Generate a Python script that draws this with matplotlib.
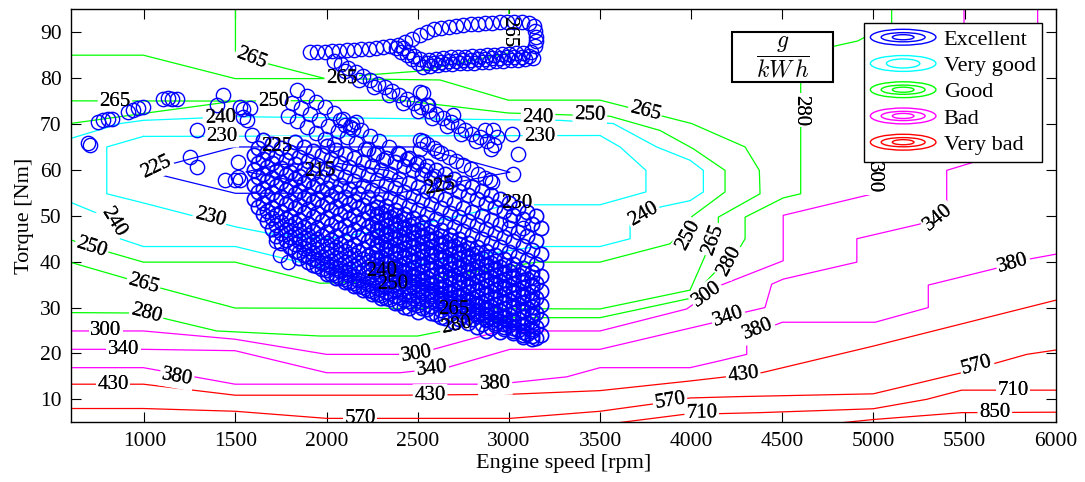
import matplotlib.pyplot as plt
from matplotlib.legend_handler import HandlerBase
from matplotlib.patches import Ellipse, Rectangle
from matplotlib.lines import Line2D
import numpy as np

plt.rcParams['font.family'] = ['Liberation Serif', 'DejaVu Serif']
plt.rcParams['mathtext.fontset'] = 'cm'

# iso-BSFC lines [g/kWh], vertices as (rpm, Nm)
bsfc_215 = [[(1560, 59.6), (1750, 61.2), (2050, 61.5), (2350, 59.8), (2420, 58.2),
             (2150, 57.3), (1800, 57.8), (1560, 59.6)]]
bsfc_225 = [[(1500, 65.0), (1158, 61.4), (1048, 59.3), (1500, 54.9), (2400, 55.0),
             (3006, 59.5), (2500, 65.0), (1500, 65.0)]]
bsfc_230 = [[(995, 67.3), (3500, 67.5), (3610, 65.0), (3752, 59.9), (3752, 55.2),
             (3500, 52.4), (3000, 52.4), (2500, 48.0), (2000, 45.0), (1690, 46.1),
             (1500, 47.6), (995, 52.8), (794, 54.8), (794, 65.0), (995, 67.3)]]
bsfc_240 = [[(592, 66.8), (867, 70.1), (995, 70.8), (1500, 71.6), (3279, 70.8),
             (3573, 70.1), (3811, 65.0), (3994, 62.1), (4067, 59.9), (4067, 55.2),
             (3994, 53.3), (3829, 51.9), (3665, 48.2), (3665, 45.0), (3500, 43.3),
             (3153, 43.3), (2500, 39.5), (1964, 38.8), (1500, 43.3), (995, 43.3),
             (867, 45.0), (867, 47.2), (794, 49.7), (592, 53.0)]]
bsfc_250 = [[(592, 70.1), (995, 72.3), (1498, 75.0), (2403, 75.2), (2997, 72.4),
             (3555, 71.7), (3829, 68.6), (4012, 64.6), (4186, 59.9), (4186, 55.2),
             (4003, 49.8), (4003, 48.2), (3884, 43.9), (3500, 39.9), (3153, 39.9),
             (2500, 35.8), (1964, 35.3), (1498, 39.9), (995, 39.9), (812, 42.0),
             (592, 44.8)]]
bsfc_265 = [[(592, 85.0), (995, 85.0), (1498, 79.9), (2000, 79.9), (2622, 79.6),
             (2997, 75.2), (3500, 75.2), (3756, 72.6), (4003, 70.1), (4296, 65.0),
             (4374, 59.9), (4378, 54.8), (4149, 49.7), (4149, 47.5), (4090, 42.5),
             (3994, 33.8), (3500, 29.7), (1498, 29.9), (1000, 35.2), (592, 39.9)],
            [(1500, 96.0), (1500, 85.8), (1671, 83.2), (1982, 80.0), (2500, 81.5),
             (3000, 85.5), (3000, 96.0)],
            [(592, 75.05), (1498, 75.0)]]
bsfc_280 = [[(5100, 96.0), (5100, 92.0), (4914, 88.1), (4778, 86.9), (4601, 80.0),
             (4601, 54.8), (4505, 53.9), (4296, 49.7), (4296, 45.0), (4268, 43.1),
             (4121, 37.3), (3994, 32.0), (3500, 27.8), (3000, 27.8), (2500, 23.8),
             (1964, 23.8), (1397, 24.9), (1123, 27.5), (1000, 28.8), (592, 28.9)]]
bsfc_300 = [[(5497, 96.0), (5497, 92.0), (4999, 61.7), (4999, 54.8), (4505, 50.1),
             (4505, 40.2), (4158, 34.8), (3976, 29.7), (3500, 24.9), (2952, 24.9),
             (2586, 20.9), (2403, 19.8), (2000, 19.8), (1498, 23.1), (995, 24.9),
             (592, 24.9)]]
bsfc_340 = [[(5901, 96.0), (5901, 92.0), (5576, 62.0), (5402, 59.9), (5402, 53.0),
             (5255, 48.2), (4909, 45.0), (4909, 39.9), (4505, 36.2), (4442, 35.1),
             (4405, 30.0), (4286, 28.9), (4121, 26.7), (3500, 20.9), (3006, 20.9),
             (2659, 16.9), (2403, 15.8), (2000, 15.8), (1498, 20.6), (995, 20.9),
             (592, 20.9)]]
bsfc_380 = [[(592, 16.9), (995, 16.9), (1498, 13.3), (2823, 13.3), (3006, 13.6),
             (3317, 14.9), (3500, 16.9), (3994, 16.9), (4158, 18.4), (4305, 19.8),
             (4305, 23.8), (4500, 26.8), (5009, 26.8), (5301, 30.0), (5301, 34.9),
             (5658, 38.4), (5859, 40.6), (6010, 41.7)]]
bsfc_430 = [[(592, 13.3), (995, 13.3), (1498, 10.9), (2403, 10.9), (3006, 11.1),
             (3500, 11.9), (3994, 14.0), (4387, 15.8), (4999, 21.6), (6010, 31.7)]]
bsfc_570 = [[(592, 8.0), (995, 8.0), (1498, 7.4), (2000, 5.85), (3006, 5.85),
             (3500, 7.4), (3793, 9.0), (3994, 10.3), (4268, 10.6), (4999, 11.2),
             (5484, 15.8), (5841, 19.8), (6010, 20.8)]]
bsfc_710 = [[(3540, 4.6), (3957, 6.7), (4378, 7.1), (4999, 7.95), (5292, 10.0),
             (5484, 12.0), (6010, 12.0)]]
bsfc_850 = [[(4700, 4.4), (4999, 5.6), (5484, 7.1), (6010, 7.2)]]

# (level, rpm, Nm) of the inline labels
label_spots = [(215, 1964, 59.7), (225, 1068, 60.6), (225, 1726, 65.0), (225, 2622, 56.3),
               (230, 1425, 67.3), (230, 3171, 67.2), (230, 3043, 52.6), (230, 1360, 49.6),
               (240, 1416, 71.4), (240, 3160, 71.3), (240, 3738, 50.3), (240, 831, 48.6),
               (240, 2302, 38.0), (250, 1708, 75.0), (250, 3445, 72.0), (250, 3985, 45.8),
               (250, 711, 43.1), (250, 2365, 35.0), (265, 839, 75.0), (265, 1589, 84.4),
               (265, 2083, 79.9), (265, 3000, 90.2), (265, 3747, 72.8), (265, 4121, 44.8),
               (265, 2695, 29.6), (265, 995, 35.1), (280, 4601, 73.0), (280, 4210, 40.2),
               (280, 2714, 26.0), (280, 1013, 28.7), (300, 790, 24.9), (300, 2494, 19.8),
               (300, 4085, 32.9), (300, 4999, 58.4), (340, 885, 20.8), (340, 2577, 16.6),
               (340, 4204, 28.0), (340, 5356, 49.6), (380, 1178, 14.8), (380, 2924, 13.3),
               (380, 4368, 25.3), (380, 5767, 39.6), (430, 828, 13.3), (430, 2568, 10.9),
               (430, 4286, 15.3), (570, 2184, 5.85), (570, 3884, 9.7), (570, 5567, 17.4),
               (710, 4058, 7.0), (710, 5766, 12.0), (850, 5666, 7.1)]
label_rot = {(240, 831): -58, (250, 3985): 62, (265, 4121): 70, (280, 4210): 62}

# operating points (rpm, Nm)
pts_left = [(691, 65.8), (700, 65.4), (748, 70.5), (775, 70.8), (803, 71.0), (821, 71.2),
            (912, 72.6), (940, 73.0), (967, 73.4), (991, 73.6), (1104, 75.4), (1132, 75.6),
            (1150, 75.4), (1178, 75.4), (1287, 68.8), (1397, 74.1), (1433, 76.3), (1251, 62.8),
            (1287, 60.6), (1443, 57.7), (1498, 57.7), (1516, 58.4), (1525, 57.9), (1516, 61.7),
            (1540, 73.2), (1543, 71.6), (1589, 67.5), (1525, 73.7), (1580, 73.4), (1562, 70.8)]
pts_loop = [(1909, 85.6), (1950, 85.7), (1990, 85.8), (2030, 85.9), (2070, 86.0), (2110, 86.1),
            (2150, 86.2), (2190, 86.3), (2230, 86.4), (2270, 86.6), (2310, 86.8), (2350, 87.0),
            (2390, 87.3), (2430, 87.8), (2470, 88.5), (2510, 89.3), (2550, 90.0), (2590, 90.6),
            (2630, 91.0), (2670, 91.2), (2710, 91.4), (2750, 91.5), (2790, 91.7), (2830, 91.8),
            (2870, 92.0), (2910, 92.1), (2950, 92.2), (2990, 92.3), (3030, 92.3), (3070, 92.2),
            (3110, 92.0), (3140, 91.3), (3145, 90.2), (3148, 89.0), (3148, 88.0), (3145, 87.0),
            (2560, 84.0), (2600, 84.2), (2640, 84.4), (2680, 84.5), (2720, 84.6), (2760, 84.7),
            (2800, 84.8), (2840, 84.9), (2880, 85.0), (2920, 85.1), (2960, 85.2), (3000, 85.3),
            (3040, 85.4), (3080, 85.5), (3120, 85.8),
            (2550, 83.2), (2590, 83.4), (2630, 83.6), (2670, 83.7), (2710, 83.8), (2750, 83.9),
            (2790, 84.0), (2830, 84.1), (2870, 84.2), (2910, 84.3), (2950, 84.4), (2990, 84.5),
            (3030, 84.6), (3070, 84.7), (3110, 84.9),
            (2530, 82.4), (2570, 82.6), (2610, 82.8), (2650, 83.0), (2690, 83.1), (2730, 83.2),
            (2770, 83.3), (2810, 83.4), (2850, 83.5), (2890, 83.6), (2930, 83.7), (2970, 83.8),
            (3010, 83.9), (3050, 84.0), (3090, 84.1), (3130, 84.4),
            (2380, 86.6), (2410, 85.8), (2440, 85.0), (2470, 84.2), (2500, 83.4),
            (2420, 86.6), (2450, 85.7), (2480, 84.9), (2510, 84.1)]
pts_streaks = [(2040, 83.8), (2080, 83.0), (2120, 82.1), (2160, 81.3), (2200, 80.5), (2240, 79.6),
               (2280, 78.8), (2320, 78.0), (2360, 77.1), (2400, 76.3), (2440, 75.4), (2480, 74.6),
               (2520, 73.8), (2560, 72.9), (2600, 72.1), (2640, 71.3), (2680, 70.4), (2720, 69.6),
               (2760, 68.8), (2800, 67.9), (2840, 67.1), (2880, 66.3), (2920, 65.4),
               (2100, 81.5), (2180, 79.7), (2260, 78.0), (2340, 76.3), (2420, 74.6), (2500, 72.9),
               (2580, 71.3), (2660, 69.6), (2740, 67.9), (2820, 66.3), (2900, 64.6),
               (1840, 77.4), (1890, 76.2), (1940, 74.9), (1990, 73.7), (2040, 72.4), (2090, 71.2),
               (2140, 69.9), (2190, 68.7), (2240, 67.4), (2290, 66.2), (2340, 64.9), (2390, 63.7),
               (2440, 62.4), (2490, 61.2), (2540, 59.9), (2590, 58.7), (2640, 57.4),
               (1810, 74.6), (1860, 73.4), (1910, 72.1), (1960, 70.9), (2010, 69.6), (2060, 68.4),
               (2110, 67.1), (2160, 65.9), (2210, 64.6), (2260, 63.4), (2310, 62.1),
               (1790, 71.8), (1840, 70.6), (1890, 69.3), (1940, 68.1), (1990, 66.8), (2040, 65.6),
               (2510, 66.5), (2550, 65.6), (2590, 64.7), (2630, 63.7), (2670, 62.8), (2710, 61.9),
               (2750, 61.0), (2790, 60.1), (2830, 59.1), (2870, 58.2), (2910, 57.3)]
pts_loose = [(2074, 70.8), (2101, 69.7), (2129, 69.4), (2147, 69.0), (2160, 70.5), (2512, 77.0),
             (2549, 74.1), (2530, 66.4), (2512, 64.6), (2604, 64.2), (2531, 76.7), (2558, 74.1),
             (2695, 71.9), (2869, 68.6), (2915, 68.6), (2933, 67.2), (3015, 67.9), (3052, 63.5),
             (3025, 59.2), (2897, 57.7), (3006, 49.0), (3077, 47.4), (1720, 44.5), (1744, 41.5),
             (1790, 40.0)]

# dense band: rpm columns, every streak takes every second column from its first rpm
mass_rpm = [1600, 1625, 1650, 1675, 1700, 1725, 1750, 1775, 1800, 1825, 1850, 1875, 1900,
            1925, 1950, 1975, 2000, 2025, 2050, 2075, 2100, 2125, 2150, 2175, 2200, 2225,
            2250, 2275, 2300, 2325, 2350, 2375, 2400, 2425, 2450, 2475, 2500, 2525, 2550,
            2575, 2600, 2625, 2650, 2675, 2700, 2725, 2750, 2775, 2800, 2825, 2850, 2875,
            2900, 2925, 2950, 2975, 3000, 3025, 3050, 3075, 3100, 3125, 3150, 3175]
mass_streaks = [
    (2400, [63.5, 62.6, 61.7, 60.8, 59.9, 59.0, 58.1, 57.2, 56.3, 55.4, 54.5, 53.6, 52.7, 51.8,
            50.9, 50.0]),
    (2225, [64.5, 63.6, 62.7, 61.8, 60.9, 60.0, 59.1, 58.2, 57.3, 56.4, 55.5, 54.6, 53.7, 52.8,
            51.9, 51.0, 50.1, 49.2, 48.3, 47.4]),
    (2000, [65.3, 64.4, 63.5, 62.6, 61.7, 60.8, 59.9, 59.0, 58.1, 57.2, 56.3, 55.4, 54.5, 53.6,
            52.7, 51.8, 50.9, 50.0, 49.1, 48.2, 47.3, 46.4, 45.5, 44.6]),
    (1825, [66.0, 65.1, 64.2, 63.3, 62.4, 61.5, 60.6, 59.7, 58.8, 57.9, 57.0, 56.1, 55.2, 54.3,
            53.4, 52.5, 51.6, 50.7, 49.8, 48.9, 48.0, 47.1, 46.2, 45.3, 44.4, 43.5, 42.6, 41.7]),
    (1650, [66.5, 65.6, 64.7, 63.8, 62.9, 62.0, 61.1, 60.2, 59.3, 58.4, 57.5, 56.6, 55.7, 54.8,
            53.9, 53.0, 52.1, 51.2, 50.3, 49.4, 48.5, 47.6, 46.7, 45.8, 44.9, 44.0, 43.1, 42.2,
            41.3, 40.4, 39.5]),
    (1625, [64.8, 63.9, 63.0, 62.1, 61.2, 60.3, 59.4, 58.5, 57.6, 56.7, 55.8, 54.9, 54.0, 53.1,
            52.2, 51.3, 50.4, 49.5, 48.6, 47.7, 46.8, 45.9, 45.0, 44.1, 43.2, 42.3, 41.4, 40.5,
            39.6, 38.7, 37.8, 36.9]),
    (1600, [63.2, 62.3, 61.4, 60.5, 59.6, 58.7, 57.8, 56.9, 56.0, 55.1, 54.2, 53.3, 52.4, 51.5,
            50.6, 49.7, 48.8, 47.9, 47.0, 46.1, 45.2, 44.3, 43.4, 42.5, 41.6, 40.7, 39.8, 38.9,
            38.0, 37.1, 36.2, 35.3]),
    (1625, [61.6, 60.7, 59.8, 58.9, 58.0, 57.1, 56.2, 55.3, 54.4, 53.5, 52.6, 51.7, 50.8, 49.9,
            49.0, 48.1, 47.2, 46.3, 45.4, 44.5, 43.6, 42.7, 41.8, 40.9, 40.0, 39.1, 38.2, 37.3,
            36.4, 35.5, 34.6, 33.7]),
    (1600, [60.0, 59.1, 58.2, 57.3, 56.4, 55.5, 54.6, 53.7, 52.8, 51.9, 51.0, 50.1, 49.2, 48.3,
            47.4, 46.5, 45.6, 44.7, 43.8, 42.9, 42.0, 41.1, 40.2, 39.3, 38.4, 37.5, 36.6, 35.7,
            34.8, 33.9, 33.0, 32.1]),
    (1625, [58.4, 57.5, 56.6, 55.7, 54.8, 53.9, 53.0, 52.1, 51.2, 50.3, 49.4, 48.5, 47.6, 46.7,
            45.8, 44.9, 44.0, 43.1, 42.2, 41.3, 40.4, 39.5, 38.6, 37.7, 36.8, 35.9, 35.0, 34.1,
            33.2, 32.3, 31.4, 30.5]),
    (1600, [56.8, 55.9, 55.0, 54.1, 53.2, 52.3, 51.4, 50.5, 49.6, 48.7, 47.8, 46.9, 46.0, 45.1,
            44.2, 43.3, 42.4, 41.5, 40.6, 39.7, 38.8, 37.9, 37.0, 36.1, 35.2, 34.3, 33.4, 32.5,
            31.6, 30.7, 29.8, 28.9]),
    (1625, [55.2, 54.3, 53.4, 52.5, 51.6, 50.7, 49.8, 48.9, 48.0, 47.1, 46.2, 45.3, 44.4, 43.5,
            42.6, 41.7, 40.8, 39.9, 39.0, 38.1, 37.2, 36.3, 35.4, 34.5, 33.6, 32.7, 31.8, 30.9,
            30.0, 29.1, 28.2, 27.3]),
    (1600, [53.6, 52.7, 51.8, 50.9, 50.0, 49.1, 48.2, 47.3, 46.4, 45.5, 44.6, 43.7, 42.8, 41.9,
            41.0, 40.1, 39.2, 38.3, 37.4, 36.5, 35.6, 34.7, 33.8, 32.9, 32.0, 31.1, 30.2, 29.3,
            28.4, 27.5, 26.6, 25.7]),
    (1625, [52.0, 51.1, 50.2, 49.3, 48.4, 47.5, 46.6, 45.7, 44.8, 43.9, 43.0, 42.1, 41.2, 40.3,
            39.4, 38.5, 37.6, 36.7, 35.8, 34.9, 34.0, 33.1, 32.2, 31.3, 30.4, 29.5, 28.6, 27.7,
            26.8, 25.9, 25.0, 24.1]),
    (1650, [50.4, 49.5, 48.6, 47.7, 46.8, 45.9, 45.0, 44.1, 43.2, 42.3, 41.4, 40.5, 39.6, 38.7,
            37.8, 36.9, 36.0, 35.1, 34.2, 33.3, 32.4, 31.5, 30.6, 29.7, 28.8, 27.9, 27.0, 26.1,
            25.2, 24.3, 23.4]),
    (1675, [48.8, 47.9, 47.0, 46.1, 45.2, 44.3, 43.4, 42.5, 41.6, 40.7, 39.8, 38.9, 38.0, 37.1,
            36.2, 35.3, 34.4, 33.5, 32.6, 31.7, 30.8, 29.9, 29.0, 28.1, 27.2, 26.3, 25.4, 24.5,
            23.6]),
    (1700, [47.2, 46.3, 45.4, 44.5, 43.6, 42.7, 41.8, 40.9, 40.0, 39.1, 38.2, 37.3, 36.4, 35.5,
            34.6, 33.7, 32.8, 31.9, 31.0, 30.1, 29.2, 28.3, 27.4, 26.5, 25.6, 24.7]),
    (1725, [45.6, 44.7, 43.8, 42.9, 42.0, 41.1, 40.2, 39.3, 38.4, 37.5, 36.6, 35.7, 34.8, 33.9,
            33.0, 32.1, 31.2, 30.3, 29.4, 28.5, 27.6, 26.7, 25.8, 24.9]),
    (1750, [44.0, 43.1, 42.2, 41.3, 40.4, 39.5, 38.6, 37.7, 36.8, 35.9, 35.0, 34.1, 33.2, 32.3,
            31.4, 30.5, 29.6, 28.7, 27.8, 26.9]),
    (1825, [42.4, 41.5, 40.6, 39.7, 38.8, 37.9, 37.0, 36.1, 35.2, 34.3, 33.4, 32.5, 31.6, 30.7,
            29.8, 28.9, 28.0]),
    (1850, [40.8, 39.9, 39.0, 38.1, 37.2, 36.3, 35.4, 34.5, 33.6, 32.7, 31.8, 30.9, 30.0, 29.1]),
    (1925, [39.2, 38.3, 37.4, 36.5, 35.6, 34.7, 33.8, 32.9, 32.0, 31.1, 30.2]),
    (2000, [37.4, 36.5, 35.6, 34.7, 33.8, 32.9, 32.0]),
    # denser lower-right part
    (2275, [51.9, 51.0, 50.1, 49.2, 48.3, 47.4, 46.5, 45.6, 44.7, 43.8, 42.9, 42.0, 41.1, 40.2,
            39.3, 38.4, 37.5, 36.6]),
    (2275, [50.3, 49.4, 48.5, 47.6, 46.7, 45.8, 44.9, 44.0, 43.1, 42.2, 41.3, 40.4, 39.5, 38.6,
            37.7, 36.8, 35.9, 35.0]),
    (2275, [48.7, 47.8, 46.9, 46.0, 45.1, 44.2, 43.3, 42.4, 41.5, 40.6, 39.7, 38.8, 37.9, 37.0,
            36.1, 35.2, 34.3, 33.4]),
    (2275, [47.1, 46.2, 45.3, 44.4, 43.5, 42.6, 41.7, 40.8, 39.9, 39.0, 38.1, 37.2, 36.3, 35.4,
            34.5, 33.6, 32.7, 31.8]),
    (2275, [45.5, 44.6, 43.7, 42.8, 41.9, 41.0, 40.1, 39.2, 38.3, 37.4, 36.5, 35.6, 34.7, 33.8,
            32.9, 32.0, 31.1, 30.2]),
    (2275, [43.9, 43.0, 42.1, 41.2, 40.3, 39.4, 38.5, 37.6, 36.7, 35.8, 34.9, 34.0, 33.1, 32.2,
            31.3, 30.4, 29.5, 28.6]),
    (2275, [42.3, 41.4, 40.5, 39.6, 38.7, 37.8, 36.9, 36.0, 35.1, 34.2, 33.3, 32.4, 31.5, 30.6,
            29.7, 28.8, 27.9, 27.0]),
    (2275, [40.7, 39.8, 38.9, 38.0, 37.1, 36.2, 35.3, 34.4, 33.5, 32.6, 31.7, 30.8, 29.9, 29.0,
            28.1, 27.2, 26.3, 25.4]),
    (2275, [39.1, 38.2, 37.3, 36.4, 35.5, 34.6, 33.7, 32.8, 31.9, 31.0, 30.1, 29.2, 28.3, 27.4,
            26.5, 25.6, 24.7, 23.8]),
    (2275, [38.4, 37.5, 36.6, 35.7, 34.8, 33.9, 33.0, 32.1, 31.2, 30.3, 29.4, 28.5, 27.6, 26.7,
            25.8, 24.9, 24.0, 23.1]),
]

level_lines = {215: bsfc_215, 225: bsfc_225, 230: bsfc_230, 240: bsfc_240, 250: bsfc_250,
               265: bsfc_265, 280: bsfc_280, 300: bsfc_300, 340: bsfc_340, 380: bsfc_380,
               430: bsfc_430, 570: bsfc_570, 710: bsfc_710, 850: bsfc_850}
classes = ['Excellent', 'Very good', 'Good', 'Bad', 'Very bad']
class_colors = ['#0000ff', '#00ffff', '#00ff00', '#ff00ff', '#ff0000']
class_levels = [[215, 225], [230, 240], [250, 265, 280], [300, 340, 380], [430, 570, 710, 850]]
level_color = {lv: c for c, lvs in zip(class_colors, class_levels) for lv in lvs}

fig = plt.figure(figsize=(10.85, 4.82), dpi=100)
ax = fig.add_axes([0.0658, 0.1239, 0.9072, 0.8568])
ax.set_xlim(600, 6000)
ax.set_ylim(5, 95)

for lv, lines in level_lines.items():
    for line in lines:
        xs, ys = zip(*line)
        ax.plot(xs, ys, color=level_color[lv], lw=0.9, zorder=2)

op_rpm, op_nm = [], []
for p in pts_left + pts_loop + pts_streaks + pts_loose:
    op_rpm.append(p[0])
    op_nm.append(p[1])
ax.plot(op_rpm, op_nm, 'o', ls='none', ms=10.3, mfc='none', mec='#0000ff', mew=1.0, zorder=3)

mass_x, mass_y = [], []
for start, torques in mass_streaks:
    i0 = mass_rpm.index(start)
    mass_x += mass_rpm[i0:i0 + 2 * len(torques):2]
    mass_y += torques
ax.plot(mass_x, mass_y, 'o', ls='none', ms=10.3, mfc='none', mec='#0000ff', mew=1.2, zorder=3)


def line_angle(lv, x, y):
    px, py = ax.transData.transform((x, y))
    best, ang = 1e9, 0.0
    for line in level_lines[lv]:
        d = ax.transData.transform(np.array(line, dtype=float))
        for (x0, y0), (x1, y1) in zip(d[:-1], d[1:]):
            vx, vy = x1 - x0, y1 - y0
            L2 = vx * vx + vy * vy
            if L2 == 0:
                continue
            t = min(1, max(0, ((px - x0) * vx + (py - y0) * vy) / L2))
            dist = np.hypot(x0 + t * vx - px, y0 + t * vy - py)
            if dist < best:
                best, ang = dist, np.degrees(np.arctan2(vy, vx))
    if ang >= 90:
        ang -= 180
    if ang < -90:
        ang += 180
    return ang


for lv, x, y in label_spots:
    rot = label_rot.get((lv, x), line_angle(lv, x, y))
    kw = dict(rotation=rot, rotation_mode='anchor', ha='center', va='center', fontsize=15)
    ax.text(x, y, str(lv), zorder=2.5,
            bbox=dict(boxstyle='square,pad=0.08', fc='white', ec='none'), **kw)
    ax.text(x, y, str(lv), zorder=4, **kw)

ax.set_xticks(np.arange(1000, 6001, 500))
ax.set_yticks(np.arange(10, 91, 10))
ax.tick_params(direction='in', top=True, right=True, length=7, width=0.8,
               labelsize=15.5, pad=7)
for s in ax.spines.values():
    s.set_linewidth(1.0)
ax.set_xlabel('Engine speed [rpm]', fontsize=16, labelpad=2)
ax.set_ylabel('Torque [Nm]', fontsize=16, labelpad=4)

# unit box
ax.add_patch(Rectangle((0.6708, 0.8247), 0.1033, 0.1196, transform=ax.transAxes,
                       fc='white', ec='black', lw=1.5, zorder=5))
ax.text(0.7225, 0.8845, r'$\dfrac{g}{kW\,h}$', transform=ax.transAxes, fontsize=17,
        ha='center', va='center', zorder=6)


class RingsHandler(HandlerBase):
    def __init__(self, color, rings):
        super().__init__()
        self.color = color
        self.rings = rings

    def create_artists(self, legend, orig_handle, xdescent, ydescent, width, height,
                       fontsize, trans):
        cx = width / 2 - xdescent
        cy = height / 2 - ydescent
        return [Ellipse((cx, cy), width * fw, height * fh, fill=False,
                        edgecolor=self.color, lw=1.0, transform=trans)
                for fw, fh in self.rings]


rings3 = [(1.0, 1.0), (0.67, 0.58), (0.33, 0.32)]
rings2 = [(1.0, 1.0), (0.51, 0.57)]
handles = [Line2D([], []) for _ in classes]
hmap = {h: RingsHandler(c, rings2 if name == 'Very good' else rings3)
        for h, c, name in zip(handles, class_colors, classes)}
leg = ax.legend(handles, classes, handler_map=hmap, loc='upper right', fontsize=16,
                handlelength=2.95, handleheight=0.72, handletextpad=0.35, labelspacing=0.25,
                borderpad=0.3, borderaxespad=0.6, fancybox=False, framealpha=1,
                edgecolor='black')
leg.get_frame().set_linewidth(1.0)
leg.set_zorder(6)

fig.savefig('out.png', dpi=100)
